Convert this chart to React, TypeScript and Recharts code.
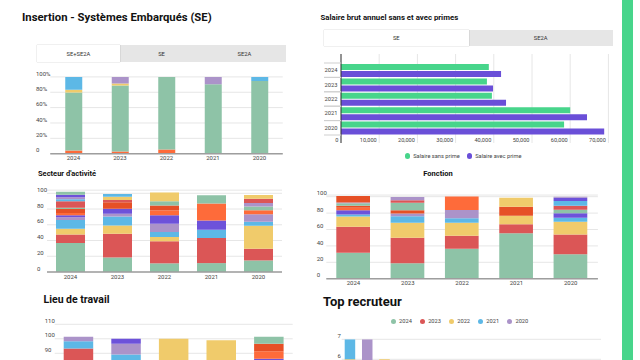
import React from 'react';
import { BarChart, Bar, XAxis, YAxis, CartesianGrid, Legend } from 'recharts';

const FONT = 'Roboto, "Noto Sans", Arial, sans-serif';
const TEXT = '#444';
const GRID = '#e6e6e6';
const BASE = '#9e9e9e';

const GREEN = '#8ec3a7';
const RED = '#db5656';
const YELLOW = '#f0cb6b';
const BLUE = '#5db8e6';
const PURPLE = '#ab93c9';
const INDIGO = '#6d52da';
const ORANGE = '#fe6b3a';
const DARK_ORANGE = '#e65026';
const PALETTE = [GREEN, RED, YELLOW, BLUE, PURPLE, INDIGO, ORANGE, DARK_ORANGE];
const MINT = '#47d58b';
const VIOLET = '#6a4fd8';

// ---- data ----
const years = ['2024', '2023', '2022', '2021', '2020'];

// insertion (100 % empilé)
const insertionStatus = ["En recherche d'emploi", 'En emploi', "Poursuite d'études", 'Autre', 'Thèse'];
const insertionColors = [ORANGE, GREEN, YELLOW, PURPLE, BLUE];
const insertionValues = [
  [4.3, 3, 5.6, 0, 0],
  [75.4, 85.8, 94.4, 90.5, 94.8],
  [3.5, 2.6, 0, 0, 0],
  [0, 8.6, 0, 9.5, 0],
  [16.8, 0, 0, 0, 5.2],
];
const percentTicks = [0, 0.2, 0.4, 0.6, 0.8, 1];

// salaires
const salaireSeries = ['Salaire sans prime', 'Salaire avec prime'];
const salaireSansPrime = [38700, 38200, 39500, 60000, 58400];
const salaireAvecPrime = [41900, 39800, 43200, 64400, 68900];
const salaireTicks = [0, 10000, 20000, 30000, 40000, 50000, 60000, 70000];

// secteur d'activité (une ligne par secteur, valeurs 2024..2020)
const secteurValues = [
  [37, 18.5, 11, 11.3, 14.7],
  [10.5, 30, 28, 32, 14.7],
  [7.5, 10.5, 5.5, 0, 29.4],
  [11, 11.5, 6.2, 10.5, 5],
  [3.5, 3.5, 10.5, 0, 9.7],
  [2.5, 6.5, 11, 11.7, 0],
  [3, 0, 6, 21.5, 5],
  [5, 8, 6.2, 0, 0],
  [1.5, 0, 5.5, 10.5, 4.6],
  [8.5, 3, 0, 0, 0],
  [0, 4, 11, 0, 0],
  [2.5, 3.5, 0, 0, 0],
  [2.5, 0, 0, 0, 4.6],
  [3, 0, 0, 0, 0],
  [0, 0, 0, 0, 0],
  [0, 0, 0, 0, 0],
  [4, 0, 0, 0, 0],
  [0, 0, 0, 0, 5.5],
  [0, 0, 0, 0, 4.6],
];

// fonction
const fonctionValues = [
  [31.7, 18.7, 36.6, 55.3, 29.7],
  [31.7, 31.3, 15.8, 11, 24.3],
  [12.5, 18.3, 15.9, 10.5, 15.5],
  [2.5, 8, 5.3, 0, 4.9],
  [0, 3.3, 10.1, 0, 0],
  [5, 0, 0, 0, 5.3],
  [3, 0, 16.5, 0, 0],
  [2.5, 4, 0, 11, 0],
  [3, 9, 0, 0, 4.4],
  [0, 3.2, 0, 0, 4.9],
  [0, 0, 0, 11, 0],
  [0, 0, 0, 0, 5.7],
  [1, 3.7, 0, 0, 0],
  [0, 0, 0, 0, 4.1],
  [0, 0, 0, 0, 0],
  [8, 0, 0, 0, 0],
  [0, 0, 0, 0, 0],
  [0, 0, 0, 0, 0],
  [0, 0, 0, 0, 0],
  [0, 0, 0, 0, 0],
  [0, 0, 0, 0, 1.2],
];
const hundredTicks = [0, 20, 40, 60, 80, 100];

// lieu de travail (seul le haut du graphique est visible)
const lieuValues = [
  [55, 40, 10, 5, 30],
  [38.3, 20, 5, 0, 20],
  [0, 15, 85, 94, 20],
  [5, 14.2, 0, 0, 6],
  [3.1, 7.4, 0, 0, 0],
  [0, 3.4, 0, 0, 10.2],
  [0, 0, 0, 0, 5.3],
  [0, 0, 0, 0, 5.1],
  [0, 0, 0, 0, 4.8],
];
const lieuTicks = [90, 100, 110];

// top recruteur (une ligne par année, valeurs par entreprise)
const recruteurs = [
  'Entreprise A', 'Entreprise B', 'Entreprise C', 'Entreprise D', 'Entreprise E',
  'Entreprise F', 'Entreprise G', 'Entreprise H', 'Entreprise I', 'Entreprise J',
  'Entreprise K', 'Entreprise L', 'Entreprise M', 'Entreprise N', 'Entreprise O',
];
const recrut2024 = [2, 2, 2, 1, 2, 1, 0, 2, 1, 0, 1, 2, 1, 0, 1];
const recrut2023 = [2, 1, 2, 2, 1, 1, 2, 0, 1, 1, 0, 1, 0, 1, 0];
const recrut2022 = [2, 1, 2, 1, 0, 1, 1, 0, 1, 0, 1, 0, 1, 0, 0];
const recrut2021 = [1, 0, 0, 1, 1, 1, 0, 1, 0, 1, 0, 0, 0, 1, 0];
const recrut2020 = [0, 3, 0, 0, 1, 0, 1, 1, 0, 1, 1, 0, 0, 0, 1];
const recrutTicks = [6, 7];

// ---- helpers ----
function toRows(cats: string[], series: number[][]) {
  return cats.map((c, i) => {
    const row: Record<string, string | number> = { name: c };
    series.forEach((vals, s) => {
      row[`s${s}`] = vals[i];
    });
    return row;
  });
}

const leftTick = (labelX: number, fmt: (v: number) => string = (v) => String(v)) => (props: any) => {
  const { y, payload } = props;
  return (
    <text x={labelX} y={y - 3.5} dy="0.35em" fontSize={6} fill={TEXT} fontFamily={FONT}>
      {fmt(payload.value)}
    </text>
  );
};

const DotLegend = ({ payload, height, gap, order }: { payload?: any[]; height: number; gap: number; order: string[] }) => {
  const items = [...(payload || [])].sort((a, b) => order.indexOf(a.value) - order.indexOf(b.value));
  return (
    <div style={{ display: 'flex', justifyContent: 'center', alignItems: 'flex-start', height, fontFamily: FONT }}>
      {items.map((p, i) => (
        <div key={p.value} style={{ display: 'flex', alignItems: 'center', height: 14, marginRight: i < items.length - 1 ? gap : 0 }}>
          <span style={{ width: 5.3, height: 5.3, borderRadius: '50%', background: p.color, marginRight: 3 }} />
          <span style={{ fontSize: 5.7, color: TEXT }}>{p.value}</span>
        </div>
      ))}
    </div>
  );
};

function Tabs({ labels, left, top, width, height }: { labels: string[]; left: number; top: number; width: number; height: number }) {
  return (
    <div style={{ position: 'absolute', left, top, width, height, display: 'flex', background: '#e6e6e6' }}>
      {labels.map((l, i) => (
        <div
          key={l}
          style={{
            flex: 1,
            display: 'flex',
            alignItems: 'center',
            justifyContent: 'center',
            fontSize: 5.8,
            color: '#333',
            background: i === 0 ? '#fff' : 'transparent',
            boxShadow: i === 0 ? '0 0 1px rgba(0,0,0,0.35)' : 'none',
          }}
        >
          {l}
        </div>
      ))}
    </div>
  );
}

function Title({ text, left, top, size, width, center }: { text: string; left: number; top: number; size: number; width?: number; center?: boolean }) {
  return (
    <div
      style={{
        position: 'absolute',
        left,
        top,
        width,
        textAlign: center ? 'center' : 'left',
        fontSize: size,
        lineHeight: 1,
        fontWeight: 700,
        color: '#111',
        whiteSpace: 'nowrap',
      }}
    >
      {text}
    </div>
  );
}

interface StackedProps {
  rows: Record<string, string | number>[];
  count: number;
  colors: string[];
  names?: string[];
  box: { left: number; top: number; width: number; height: number };
  margin: { top: number; right: number; bottom: number; left: number };
  yWidth: number;
  xHeight: number;
  xTickMargin: number;
  domain?: [number, number];
  ticks: number[];
  barSize: number;
  labelX: number;
  fmt?: (v: number) => string;
  expand?: boolean;
  hideXTicks?: boolean;
}

function StackedYears(p: StackedProps) {
  return (
    <div style={{ position: 'absolute', left: p.box.left, top: p.box.top }}>
      <BarChart
        width={p.box.width}
        height={p.box.height}
        data={p.rows}
        margin={p.margin}
        stackOffset={p.expand ? 'expand' : 'none'}
        barSize={p.barSize}
        style={{ fontFamily: FONT }}
      >
        <CartesianGrid vertical={false} stroke={GRID} />
        <XAxis
          dataKey="name"
          height={p.xHeight}
          tickLine={false}
          tickSize={0}
          tickMargin={p.xTickMargin}
          axisLine={{ stroke: BASE, strokeWidth: 1.5 }}
          tick={p.hideXTicks ? false : { fontSize: 6, fill: TEXT }}
          interval={0}
        />
        <YAxis
          width={p.yWidth}
          domain={p.domain}
          ticks={p.ticks}
          interval={0}
          axisLine={false}
          tickLine={false}
          allowDataOverflow
          tick={leftTick(p.labelX, p.fmt)}
        />
        {Array.from({ length: p.count }, (_, s) => (
          <Bar
            key={s}
            dataKey={`s${s}`}
            name={p.names ? p.names[s] : `s${s}`}
            stackId="a"
            fill={p.colors[s % p.colors.length]}
            isAnimationActive={false}
          />
        ))}
      </BarChart>
    </div>
  );
}

const SalaryXTick = (props: any) => {
  const { x, y, payload } = props;
  return (
    <text x={x - 2.5} y={y - 2.7} dy="0.35em" textAnchor="end" fontSize={5.6} fill={TEXT} fontFamily={FONT}>
      {Number(payload.value).toLocaleString('en-US')}
    </text>
  );
};

const SalaryYTick = (props: any) => {
  const { x, y, payload } = props;
  return (
    <g>
      <line x1={x - 17} x2={x} y1={y - 7.2} y2={y - 7.2} stroke="#cfcfcf" />
      <line x1={x - 17} x2={x} y1={y + 7.2} y2={y + 7.2} stroke="#cfcfcf" />
      <text x={x - 3.5} y={y} dy="0.35em" textAnchor="end" fontSize={5.8} fill={TEXT} fontFamily={FONT}>
        {payload.value}
      </text>
    </g>
  );
};

export default function App() {
  const insertionRows = toRows(years, insertionValues);
  const secteurRows = toRows(years, secteurValues);
  const fonctionRows = toRows(years, fonctionValues);
  const lieuRows = toRows(years, lieuValues);
  const salaryRows = years.map((y, i) => ({ year: y, sans: salaireSansPrime[i], avec: salaireAvecPrime[i] }));
  const recrutSeries = [recrut2024, recrut2023, recrut2022, recrut2021, recrut2020];
  const recrutRows = recruteurs.map((c, i) => {
    const row: Record<string, string | number> = { name: c };
    years.forEach((y, k) => {
      row[y] = recrutSeries[k][i];
    });
    return row;
  });
  const yearColors = [GREEN, RED, YELLOW, BLUE, PURPLE];

  return (
    <div
      style={{
        position: 'absolute',
        left: 0,
        top: 0,
        width: 640,
        height: 360,
        overflow: 'hidden',
        background: '#fff',
        fontFamily: FONT,
      }}
    >
      <div style={{ position: 'absolute', left: 622, top: 0, width: 11, height: 360, background: MINT }} />

      <Title text="Insertion - Systèmes Embarqués (SE)" left={22} top={12} size={11.3} />
      <Tabs labels={['SE+SE2A', 'SE', 'SE2A']} left={37} top={45} width={249} height={17} />
      <StackedYears
        rows={insertionRows}
        count={insertionStatus.length}
        names={insertionStatus}
        colors={insertionColors}
        box={{ left: 30, top: 60, width: 260, height: 110 }}
        margin={{ top: 16.9, right: 7.25, bottom: 0, left: 0 }}
        yWidth={20.25}
        xHeight={16.3}
        xTickMargin={2}
        domain={[0, 1]}
        ticks={percentTicks}
        barSize={17}
        labelX={6}
        fmt={(v) => (v === 0 ? '0' : `${Math.round(v * 100)}%`)}
        expand
      />

      <Title text="Salaire brut annuel sans et avec primes" left={320.5} top={14} size={7.8} />
      <Tabs labels={['SE', 'SE2A']} left={324} top={30} width={289} height={16} />
      <div style={{ position: 'absolute', left: 318, top: 50 }}>
        <BarChart
          layout="vertical"
          width={300}
          height={115}
          data={salaryRows}
          margin={{ top: 4, right: 9.6, bottom: 0, left: 0 }}
          barSize={6}
          barGap={1}
          style={{ fontFamily: FONT }}
        >
          <CartesianGrid horizontal={false} stroke={GRID} />
          <XAxis
            type="number"
            domain={[0, 70000]}
            ticks={salaireTicks}
            interval={0}
            height={6}
            axisLine={false}
            tickLine={false}
            tickSize={0}
            tickMargin={0}
            tick={SalaryXTick}
          />
          <YAxis
            type="category"
            dataKey="year"
            width={23}
            padding={{ top: 9, bottom: 8 }}
            axisLine={{ stroke: '#333' }}
            tickLine={false}
            tickSize={0}
            tickMargin={0}
            interval={0}
            tick={SalaryYTick}
          />
          <Legend
            verticalAlign="bottom"
            content={(lp: any) => <DotLegend payload={lp.payload} height={16} gap={7} order={salaireSeries} />}
          />
          <Bar dataKey="sans" name={salaireSeries[0]} fill={MINT} isAnimationActive={false} />
          <Bar dataKey="avec" name={salaireSeries[1]} fill={VIOLET} isAnimationActive={false} />
        </BarChart>
      </div>

      <Title text="Secteur d'activité" left={38} top={170} size={7.5} />
      <StackedYears
        rows={secteurRows}
        count={secteurValues.length}
        colors={PALETTE}
        box={{ left: 30, top: 180, width: 260, height: 105 }}
        margin={{ top: 10.15, right: 8, bottom: 0, left: 0 }}
        yWidth={17}
        xHeight={13}
        xTickMargin={2.5}
        domain={[0, 104]}
        ticks={hundredTicks}
        barSize={29}
        labelX={7}
      />

      <Title text="Fonction" left={388} top={170} size={7.5} width={100} center />
      <StackedYears
        rows={fonctionRows}
        count={fonctionValues.length}
        colors={PALETTE}
        box={{ left: 305, top: 185, width: 300, height: 105 }}
        margin={{ top: 10.06, right: 7.1, bottom: 0, left: 0 }}
        yWidth={21.3}
        xHeight={11.3}
        xTickMargin={2.3}
        domain={[0, 102]}
        ticks={hundredTicks}
        barSize={33.7}
        labelX={11.7}
      />

      <Title text="Lieu de travail" left={43.5} top={294.6} size={10.5} />
      <StackedYears
        rows={lieuRows}
        count={lieuValues.length}
        colors={PALETTE}
        box={{ left: 35, top: 315, width: 265, height: 190 }}
        margin={{ top: 9.3, right: 7.3, bottom: 0, left: 0 }}
        yWidth={19.7}
        xHeight={21.2}
        xTickMargin={2.5}
        domain={[0, 110]}
        ticks={lieuTicks}
        barSize={29.5}
        labelX={9.7}
        hideXTicks
      />

      <Title text="Top recruteur" left={323} top={295} size={13} />
      <div style={{ position: 'absolute', left: 318, top: 310 }}>
        <BarChart
          width={300}
          height={190}
          data={recrutRows}
          margin={{ top: 4.3, right: 17, bottom: 0, left: 0 }}
          barSize={10.5}
          style={{ fontFamily: FONT }}
        >
          <CartesianGrid vertical={false} stroke={GRID} />
          <XAxis
            dataKey="name"
            height={20.7}
            tickLine={false}
            axisLine={{ stroke: BASE, strokeWidth: 1.5 }}
            tick={false}
            interval={0}
          />
          <YAxis
            width={23.7}
            domain={[0, 7]}
            ticks={recrutTicks}
            interval={0}
            axisLine={false}
            tickLine={false}
            allowDataOverflow
            tick={leftTick(19.5)}
          />
          <Legend
            verticalAlign="top"
            content={(lp: any) => <DotLegend payload={lp.payload} height={25} gap={8} order={years} />}
          />
          {years.map((y, k) => (
            <Bar key={y} dataKey={y} name={y} stackId="r" fill={yearColors[k]} isAnimationActive={false} />
          ))}
        </BarChart>
      </div>
    </div>
  );
}
